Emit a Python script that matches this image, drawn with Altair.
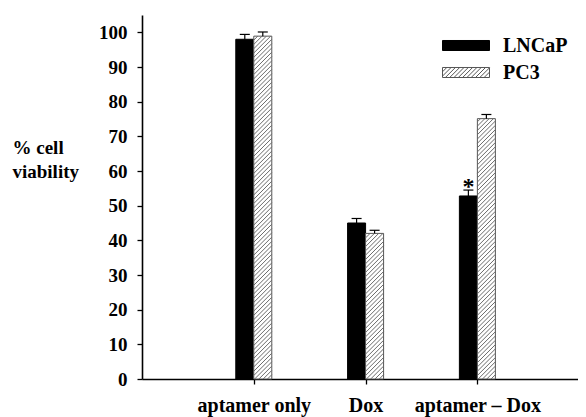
import altair as alt
import pandas as pd
import numpy as np

# ---- data ----
categories = ["aptamer only", "Dox", "aptamer \u2013 Dox"]
series = ["LNCaP", "PC3"]
lncap_values = [98.0, 45.0, 52.8]
lncap_err = [1.4, 1.3, 1.7]
pc3_values = [98.9, 42.0, 75.1]
pc3_err = [1.2, 0.9, 1.2]
y_ticks = [0, 10, 20, 30, 40, 50, 60, 70, 80, 90, 100]
star_category = "aptamer \u2013 Dox"

# ---- layout constants ----
W, H = 436, 364
XMAX, YMAX = 3.9, 105.0
KX = W / XMAX          # px per x unit
KY = H / YMAX          # px per y unit
BAR_PX = 18            # bar width in px
BW = BAR_PX / KX       # bar width in x units
CAP = 5 / KX           # half cap width
FONT = "Liberation Serif"

rows = []
for i, c in enumerate(categories):
    pos = i + 1
    rows.append(dict(cat=c, pos=pos, series="LNCaP", value=lncap_values[i], err=lncap_err[i],
                     x0=pos - BW, x1=pos))
    rows.append(dict(cat=c, pos=pos, series="PC3", value=pc3_values[i], err=pc3_err[i],
                     x0=pos, x1=pos + BW))
df = pd.DataFrame(rows)
df["xc"] = (df.x0 + df.x1) / 2
df["top"] = df.value + df.err
df["cl"] = df.xc - CAP
df["cr"] = df.xc + CAP

# hatch segments for PC3 bars (45 degree "/" lines), derived from bar values
SP = 4.3
hatch = []
for _, r in df[df.series == "PC3"].iterrows():
    hpx = r.value * KY
    for c in np.arange(-BAR_PX, hpx, SP):
        u0 = max(0.0, -c)
        u1 = min(BAR_PX, hpx - c)
        if u1 > u0:
            hatch.append(dict(hx=r.x0 + u0 / KX, hx2=r.x0 + u1 / KX,
                              hy=(u0 + c) / KY, hy2=(u1 + c) / KY))
hdf = pd.DataFrame(hatch)

# legend symbol paths
hh = 10 / 47.0
solid_path = f"M-1,-{hh:.4f}H1V{hh:.4f}H-1Z"
hatch_path = solid_path
step = 4.3 / 23.5
x = -1 - 2 * hh
while x < 1:
    a0 = max(x, -1.0)
    a1 = min(x + 2 * hh, 1.0)
    if a1 > a0:
        y0 = hh - (a0 - x)
        y1 = hh - (a1 - x)
        hatch_path += f"M{a0:.4f},{y0:.4f}L{a1:.4f},{y1:.4f}"
    x += step

x_scale = alt.Scale(domain=[0, XMAX], nice=False, zero=False)
y_scale = alt.Scale(domain=[0, YMAX], nice=False)
label_expr = " : ".join(f"datum.value == {i+1} ? '{c}'" for i, c in enumerate(categories)) + " : ''"
x_axis = alt.Axis(values=[1, 2, 3], labelExpr=label_expr, title=None, labelOverlap=False,
                  labelFlush=False, labelFontSize=20, labelPadding=11, tickSize=5,
                  labelFont=FONT, labelFontWeight="bold", labelColor="black")
y_axis = alt.Axis(values=y_ticks, title=["% cell", "viability"], titleAngle=0,
                  titleX=-130, titleY=132, titleAlign="left", titleBaseline="middle",
                  titleFontSize=19, titleFont=FONT, titleFontWeight="bold", titleColor="black",
                  titleLineHeight=24, labelPadding=10, tickSize=5, labelFontSize=19,
                  labelFont=FONT, labelFontWeight="bold", labelColor="black")

X = lambda f: alt.X(f, type="quantitative", scale=x_scale, axis=x_axis)
Y = lambda f: alt.Y(f, type="quantitative", scale=y_scale, axis=y_axis)

base = alt.Chart(df)

lncap_bars = base.transform_filter("datum.series == 'LNCaP'").mark_bar(
    color="black", stroke="black", strokeWidth=1).encode(
    x=X("x0"), x2="x1", y=Y("value"), y2=alt.datum(0))

pc3_bars = base.transform_filter("datum.series == 'PC3'").mark_bar(
    fill="white", stroke="#555555", strokeWidth=1).encode(
    x=X("x0"), x2="x1", y=Y("value"), y2=alt.datum(0))

hatch_layer = alt.Chart(hdf).mark_rule(color="#6a6a6a", strokeWidth=1).encode(
    x=X("hx"), x2="hx2", y=Y("hy"), y2="hy2")

whisker = base.mark_rule(color="black", strokeWidth=1.2).encode(
    x=X("xc"), y=Y("value"), y2="top")
caps = base.mark_rule(color="black", strokeWidth=1.2).encode(
    x=X("cl"), x2="cr", y=Y("top"))

star = base.transform_filter(
    f"datum.series == 'LNCaP' && datum.cat == '{star_category}'").mark_text(
    text="*", font=FONT, fontWeight="bold", fontSize=24, baseline="alphabetic", dy=4,
    color="black").encode(x=X("xc"), y=Y("top"))

legend_layer = base.transform_filter("false").mark_point(filled=True, size=2209, opacity=1).encode(
    x=X("xc"), y=Y("value"),
    shape=alt.Shape("series:N", scale=alt.Scale(domain=series, range=[solid_path, hatch_path]),
                    legend=alt.Legend(title=None, orient="none", legendX=300, legendY=17,
                                      symbolSize=2209, clipHeight=27, rowPadding=0, padding=0,
                                      labelFont=FONT, labelFontWeight="bold", labelFontSize=20,
                                      labelColor="black", labelOffset=13, symbolStrokeWidth=1,
                                      symbolOpacity=1)),
    fill=alt.Fill("series:N", scale=alt.Scale(domain=series, range=["black", "white"])),
    stroke=alt.Stroke("series:N", scale=alt.Scale(domain=series, range=["black", "#555555"])),
)

chart = alt.layer(lncap_bars, pc3_bars, hatch_layer, whisker, caps, star, legend_layer).properties(
    width=W, height=H,
    autosize=alt.AutoSizeParams(type="none"),
    padding={"left": 134, "top": 7, "right": 0, "bottom": 38},
).configure_view(stroke=None).configure_axis(
    grid=False, domainColor="black", domainWidth=1.6, tickColor="black", tickWidth=1.3,
    labelFont=FONT, labelFontWeight="bold", labelColor="black",
)

chart.save("out.html", embed_options={"renderer": "svg", "actions": False})
